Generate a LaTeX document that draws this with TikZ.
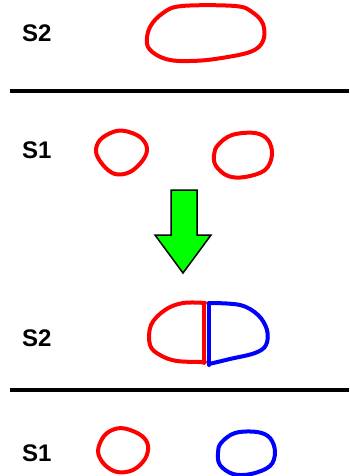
\documentclass[tikz,border=0pt]{standalone}
\usepackage{fontspec}
\setmainfont{Liberation Sans}
\definecolor{pred}{RGB}{255,0,0}
\definecolor{pblue}{RGB}{0,0,255}
\definecolor{pgreen}{RGB}{0,255,0}
\begin{document}
\begin{tikzpicture}[x=1pt,y=-1pt,
  lbl/.style={anchor=west,inner sep=0pt,font=\bfseries\fontsize{24}{24}\selectfont},
  stroke/.style={line width=4pt,line join=round,line cap=round},
  sep/.style={line width=4pt,black}]
\useasboundingbox (0,0) rectangle (349,476);
% labels
\node[lbl] (l1) at (22,33) {S2};
\node[lbl] (l2) at (22,150) {S1};
\node[lbl] (l3) at (22,338) {S2};
\node[lbl] (l4) at (22,453) {S1};
% separators
\draw[sep] (10,91) -- (349,91);
\draw[sep] (10,390) -- (349,390);
% top ellipse
\draw[stroke,pred] plot[smooth cycle,tension=0.6] coordinates {(150,27) (163,13) (182,6) (235,6) (252,12) (263,24) (263,41) (250,52) (215,59) (190,61) (170,60) (155,54) (147,44)};
% S1 circles (top)
\draw[stroke,pred] plot[smooth cycle,tension=0.6] coordinates {(100,140) (113,132) (125,131) (140,137) (147,148) (143,160) (130,172) (115,174) (103,165) (96,152)};
\draw[stroke,pred] plot[smooth cycle,tension=0.6] coordinates {(218,145) (232,135) (255,133) (268,140) (272,155) (265,170) (245,177) (228,176) (216,166) (214,155)};
% arrow
\draw[line width=1.5pt,line join=miter,fill=pgreen] (171,190) -- (197,190) -- (197,235) -- (211,235) -- (183,273) -- (155,235) -- (171,235) -- cycle;
% merged S2
\draw[stroke,pred] plot[smooth,tension=0.6] coordinates {(205,303) (183,303) (165,310) (151,325) (150,345) (160,355) (177,361) (205,362)};
\draw[stroke,pred] (204,303) -- (204,363);
\draw[stroke,pblue] (209,303) -- (209,365);
\draw[stroke,pblue] plot[smooth,tension=0.6] coordinates {(209,303) (240,305) (258,315) (267,330) (266,345) (255,353) (230,359) (209,364)};
% S1 circles (bottom)
\draw[stroke,pred] plot[smooth cycle,tension=0.6] coordinates {(104,436) (115,429) (127,429) (142,436) (148,446) (145,459) (133,470) (117,472) (104,464) (98,451)};
\draw[stroke,pblue] plot[smooth cycle,tension=0.6] coordinates {(221,443) (235,433) (257,432) (270,438) (275,452) (270,466) (251,474) (233,474) (220,465) (218,453)};
\end{tikzpicture}
\end{document}
